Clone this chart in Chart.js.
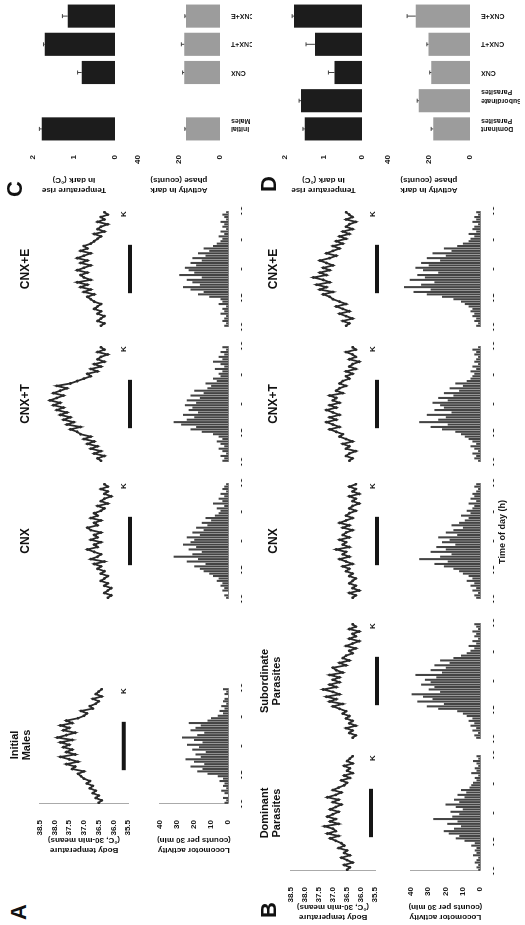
<!DOCTYPE html>
<html>
<head>
<meta charset="utf-8">
<script src="https://cdn.jsdelivr.net/npm/chart.js@4.4.1/dist/chart.umd.min.js"></script>
<style>
html,body{margin:0;padding:0;background:#fff;width:525px;height:925px;overflow:hidden;}
#fig{position:absolute;left:0;top:0;width:925px;height:525px;transform-origin:0 0;transform:translateY(925px) rotate(-90deg);font-family:"Liberation Sans",Arial,sans-serif;color:#111;background:#fff;}
#fig canvas{position:absolute;}
.t{position:absolute;font-weight:bold;text-align:center;white-space:nowrap;line-height:1.05;}
.L{position:absolute;font-weight:bold;font-size:22px;line-height:1;}
.m{position:absolute;font-size:8px;font-weight:bold;}
</style>
</head>
<body>
<div id="fig"></div>
<script>
// ---------- DATA ----------
const timeBins = [0.25,0.75,1.25,1.75,2.25,2.75,3.25,3.75,4.25,4.75,5.25,5.75,
                  6.25,6.75,7.25,7.75,8.25,8.75,9.25,9.75,10.25,10.75,11.25,11.75,
                  12.25,12.75,13.25,13.75,14.25,14.75,15.25,15.75,16.25,16.75,17.25,17.75,
                  18.25,18.75,19.25,19.75,20.25,20.75,21.25,21.75,22.25,22.75,23.25,23.75];
const hourTicks = [0,6,12,18,24];
const hourTickLabels = ['12','18','0','6','12'];
const darkPeriod = [7,17];
const darkBarLevel = 35.65;

const tempAxisTitle = ['Body temperature','(°C, 30-min means)'];
const actAxisTitle = ['Locomotor activity','(counts per 30 min)'];
const ampAxisTitle = ['Temperature rise','in dark (°C)'];
const darkActAxisTitle = ['Activity in dark','phase (counts)'];
const timeAxisTitle = 'Time of day (h)';

// Panel A temperature
const imTemp    = [36.5,36.4,36.6,36.5,36.7,36.6,36.8,36.7,36.9,36.8,37.0,37.1, 37.2,37.0,37.4,37.3,37.6,37.2,37.5,37.8,37.3,37.6,37.4,37.7, 37.5,37.8,37.4,37.9,37.6,37.3,37.7,37.5,37.8,37.4,37.6,37.2, 37.0,36.9,37.1,36.7,36.8,36.6,36.5,36.7,36.4,36.6,36.5,36.4];
const cnxTempA  = [36.3,36.2,36.4,36.3,36.2,36.4,36.3,36.5,36.4,36.3,36.5,36.4, 36.6,36.5,36.7,36.4,36.8,36.6,36.5,36.7,36.9,36.6,36.7,36.5, 36.8,36.6,36.7,36.5,36.8,36.9,36.6,36.7,36.5,36.8,36.6,36.7, 36.5,36.4,36.6,36.3,36.5,36.4,36.2,36.4,36.3,36.5,36.3,36.4];
const cnxtTempA = [36.5,36.6,36.4,36.7,36.5,36.8,36.6,36.9,36.7,37.0,36.8,37.1, 37.2,37.4,37.1,37.5,37.3,37.6,37.4,37.7,37.5,37.8,37.6,37.9, 37.7,38.0,37.8,37.6,37.9,37.7,37.5,37.8,37.4,37.2,37.0,36.8, 36.9,36.6,36.8,36.5,36.7,36.4,36.6,36.5,36.3,36.6,36.4,36.5];
const cnxeTempA = [36.5,36.4,36.6,36.5,36.4,36.6,36.5,36.7,36.6,36.5,36.7,36.8, 36.9,36.7,37.0,36.8,37.1,36.9,37.2,36.8,37.0,37.1,36.9,37.2, 37.0,36.8,37.1,36.9,37.2,37.0,36.8,37.1,36.9,37.0,36.8,36.7, 36.6,36.5,36.7,36.4,36.6,36.5,36.3,36.6,36.4,36.5,36.3,36.4];
// Panel B temperature
const domTemp   = [36.5,36.4,36.6,36.3,36.5,36.7,36.4,36.6,36.5,36.8,36.6,36.7, 36.9,37.1,36.8,37.2,36.9,37.0,37.3,36.8,37.1,36.9,37.2,37.0, 36.8,37.1,36.9,36.7,37.0,36.8,37.2,36.9,36.7,37.0,36.8,36.6, 36.5,36.7,36.4,36.6,36.3,36.5,36.4,36.6,36.3,36.5,36.4,36.3];
const subTemp   = [36.4,36.3,36.5,36.4,36.6,36.3,36.5,36.4,36.6,36.5,36.7,36.6, 36.8,37.0,36.7,37.1,36.9,37.2,36.8,37.0,37.3,36.9,37.1,36.8, 37.0,36.8,37.1,36.7,36.9,37.0,36.6,36.8,36.5,36.7,36.6,36.4, 36.5,36.3,36.6,36.4,36.2,36.5,36.3,36.4,36.2,36.5,36.3,36.4];
const cnxTempB  = [36.4,36.3,36.5,36.2,36.4,36.3,36.5,36.4,36.3,36.5,36.4,36.6, 36.5,36.7,36.4,36.6,36.8,36.5,36.7,36.6,36.9,36.5,36.7,36.6, 36.8,36.5,36.7,36.6,36.4,36.7,36.5,36.8,36.6,36.4,36.6,36.5, 36.3,36.5,36.4,36.2,36.4,36.3,36.5,36.2,36.4,36.3,36.5,36.3];
const cnxtTempB = [36.5,36.4,36.6,36.5,36.3,36.6,36.5,36.7,36.4,36.6,36.8,36.7, 36.9,37.1,36.8,37.0,37.2,36.9,37.1,36.8,37.0,37.2,36.9,37.1, 36.8,37.0,36.9,37.1,36.7,36.9,36.8,36.6,36.8,36.7,36.5,36.6, 36.4,36.6,36.3,36.5,36.4,36.2,36.5,36.3,36.4,36.6,36.3,36.4];
const cnxeTempB = [36.6,36.5,36.7,36.4,36.6,36.8,36.5,36.7,36.9,36.6,36.8,37.0, 37.1,37.3,37.0,37.4,37.2,37.5,37.1,37.3,37.6,37.2,37.4,37.1, 37.3,37.0,37.2,37.4,37.1,36.9,37.2,37.0,36.8,37.0,36.7,36.9, 36.6,36.8,36.5,36.7,36.4,36.6,36.5,36.3,36.6,36.4,36.5,36.6];

// Panel A activity
const imAct    = [2,1,3,0,2,4,1,3,2,5,3,6, 12,18,15,22,14,20,25,16,19,13,21,17, 24,15,20,27,18,14,22,19,16,23,12,10, 6,3,5,2,4,1,3,2,0,2,1,3];
const cnxActA  = [1,2,0,3,2,4,3,6,5,8,10,13, 15,18,12,22,16,29,19,14,21,17,24,20, 18,22,15,19,13,17,11,14,9,12,7,5, 4,6,2,8,3,5,2,4,1,3,2,1];
const cnxtActA = [3,2,4,1,3,5,2,4,6,3,5,8, 14,20,17,25,29,22,18,24,16,21,19,23, 17,22,15,20,13,18,11,9,12,6,8,4, 5,3,7,2,4,8,3,5,2,4,1,3];
const cnxeActA = [2,1,3,2,1,4,2,3,1,5,3,4, 10,16,13,20,24,15,19,22,14,26,18,21, 23,17,20,14,19,12,16,10,13,8,6,4, 3,5,2,4,1,3,2,4,1,2,3,1];
// Panel B activity
const domAct   = [1,2,1,3,2,1,4,2,3,2,5,3, 9,14,12,18,21,15,11,19,13,27,16,12, 17,10,14,20,12,15,9,13,8,11,6,5, 4,2,3,1,5,2,3,1,2,4,1,2];
const subAct   = [2,3,1,4,2,5,3,6,4,7,9,12, 22,28,19,33,25,30,36,21,27,24,31,26, 29,23,34,20,26,18,24,16,21,14,10,7, 5,3,6,2,4,1,3,2,4,1,2,3];
const cnxActB  = [2,3,1,4,2,5,3,7,4,6,9,11, 14,19,24,17,32,21,15,26,18,23,13,20, 16,22,12,18,14,9,15,11,8,6,10,5, 7,4,3,6,2,5,3,4,2,1,3,2];
const cnxtActB = [1,3,2,4,1,3,5,2,4,6,8,10, 13,20,26,17,32,22,18,28,15,24,19,21, 25,17,22,14,19,11,16,9,13,7,5,4, 3,5,2,4,1,3,2,1,3,2,4,1];
const cnxeActB = [2,1,3,2,4,3,5,4,6,8,10,14, 20,28,35,26,40,31,24,37,29,33,22,30, 34,27,31,21,28,18,25,15,19,12,9,6, 5,3,6,2,4,3,1,4,2,3,1,2];

// Panels C and D (bar summaries)
const cCategories = [['Initial','Males'], '', 'CNX', 'CNX+T', 'CNX+E'];
const cTempRise   = [1.78, null, 0.81, 1.71, 1.15];
const cTempErr    = [0.06, null, 0.10, 0.03, 0.13];
const cDarkAct    = [16.5, null, 17.4, 17.4, 16.5];
const cDarkActErr = [0.6, null, 0.8, 1.4, 0.6];
const dCategories = [['Dominant','Parasites'], ['Subordinate','Parasites'], 'CNX', 'CNX+T', 'CNX+E'];
const dTempRise   = [1.48, 1.58, 0.71, 1.22, 1.76];
const dTempErr    = [0.05, 0.05, 0.16, 0.23, 0.05];
const dDarkAct    = [17.9, 24.9, 18.8, 20.2, 26.4];
const dDarkActErr = [1.0, 0.8, 0.8, 0.8, 4.2];

// ---------- DRAWING ----------
Chart.defaults.font.family = '"Liberation Sans", Arial, sans-serif';
Chart.defaults.color = '#111';
const fig = document.getElementById('fig');
function addCanvas(l,t,w,h){
  const c=document.createElement('canvas');
  c.width=w; c.height=h;
  c.style.left=l+'px'; c.style.top=t+'px'; c.style.width=w+'px'; c.style.height=h+'px';
  fig.appendChild(c); return c;
}
function addText(cls, html, l, t, size, w){
  const d=document.createElement('div'); d.className=cls; d.innerHTML=html;
  d.style.left=l+'px'; d.style.top=t+'px';
  if(size) d.style.fontSize=size+'px';
  if(w) d.style.width=w+'px';
  fig.appendChild(d); return d;
}
const W = 116;
const rowA = {tT:33, tB:135, aT:153, aB:228};
const rowB = {tT:284, tB:382, aT:404, aB:480};
const baseOpts = {responsive:false, animation:false, events:[]};
const noPlug = {legend:{display:false}, tooltip:{enabled:false}};
const tickFont = {size:8, weight:'bold'};

function tempChart(p,row){
  const axW=p.yAxis?51:0, padL=p.yAxis?0:8;
  const c=addCanvas(p.x0-axW-padL, row.tT-6, padL+axW+W+8, row.tB-row.tT+12);
  new Chart(c,{type:'line',
    data:{datasets:[
      {data:timeBins.map((t,i)=>({x:t,y:p.temp[i]})), borderColor:'#2a2a2a', borderWidth:1.8, pointRadius:1.4, pointBackgroundColor:'#2a2a2a', pointBorderWidth:0, tension:0},
      {data:darkPeriod.map(t=>({x:t,y:darkBarLevel})), borderColor:'#151515', borderWidth:4, pointRadius:0, borderCapStyle:'butt'}
    ]},
    options:{...baseOpts, layout:{padding:{left:padL,right:8,top:6,bottom:6}}, plugins:noPlug,
      scales:{
        x:{type:'linear', min:0, max:24, display:false},
        y:{min:35.5, max:38.5, display:!!p.yAxis, afterFit:s=>{s.width=axW;},
           grid:{display:false}, border:{display:true,color:'#aaa',dash:[1,2]},
           ticks:{stepSize:0.5, padding:8, font:tickFont, callback:v=>v.toFixed(1)},
           title:{display:true, text:tempAxisTitle, font:{size:8, weight:'bold'}, padding:0}}
      }}
  });
}
function actChart(p,row){
  const axW=p.yAxis?51:0, padL=p.yAxis?0:8;
  const c=addCanvas(p.x0-axW-padL, row.aT-6, padL+axW+W+8, row.aB-row.aT+6+14);
  new Chart(c,{type:'bar',
    data:{datasets:[{data:timeBins.map((t,i)=>({x:t,y:p.act[i]})), backgroundColor:'#444', barPercentage:0.85, categoryPercentage:1, borderWidth:0}]},
    options:{...baseOpts, layout:{padding:{left:padL,right:8,top:6,bottom:0}}, plugins:noPlug,
      scales:{
        x:{type:'linear', min:0, max:24, offset:false, afterFit:s=>{s.height=14;},
           grid:{display:false, offset:false}, border:{display:true,color:'#888',dash:[1,2]},
           ticks:{stepSize:6, autoSkip:false, maxRotation:0, padding:3, font:{size:9, weight:'bold'},
                  callback:v=>{const i=hourTicks.indexOf(v); return i<0?'':hourTickLabels[i];}}},
        y:{min:0, max:40, display:!!p.yAxis, afterFit:s=>{s.width=axW;},
           grid:{display:false}, border:{display:true,color:'#aaa',dash:[1,2]},
           ticks:{stepSize:10, padding:8, font:tickFont},
           title:{display:true, text:actAxisTitle, font:{size:8, weight:'bold'}, padding:0}}
      }}
  });
}
const errPlugin = {id:'errbars', afterDatasetsDraw(chart, args, opts){
  const errs=opts.errors; if(!errs) return;
  const meta=chart.getDatasetMeta(0), ys=chart.scales.y, ctx=chart.ctx;
  ctx.save(); ctx.strokeStyle=opts.color||'#444'; ctx.lineWidth=1;
  meta.data.forEach((bar,i)=>{
    const v=chart.data.datasets[0].data[i], e=errs[i];
    if(v==null||!e) return;
    const yT=ys.getPixelForValue(v+e);
    ctx.beginPath(); ctx.moveTo(bar.x, bar.y); ctx.lineTo(bar.x, yT);
    ctx.moveTo(bar.x-2, yT); ctx.lineTo(bar.x+2, yT); ctx.stroke();
  });
  ctx.restore();
}};
function barChart(l,t,plotH,xh,labels,vals,errs,color,max,step,title,showX){
  const axW=52, W2=141;
  const c=addCanvas(l,t,axW+W2+2,6+plotH+xh);
  new Chart(c,{type:'bar',
    data:{labels:labels, datasets:[{data:vals, backgroundColor:color, barPercentage:0.82, categoryPercentage:1, borderWidth:0}]},
    options:{...baseOpts, layout:{padding:{left:0,right:2,top:6,bottom:showX?0:xh}},
      plugins:{...noPlug, errbars:{errors:errs, color:'#444'}},
      scales:{
        x:{display:showX, afterFit:s=>{s.height=xh;}, grid:{display:false}, border:{display:false},
           ticks:{minRotation:90, maxRotation:90, autoSkip:false, font:{size:7, weight:'bold'}, padding:3}},
        y:{min:0, max:max, afterFit:s=>{s.width=axW;}, grid:{display:false}, border:{display:false},
           ticks:{stepSize:step, font:tickFont, padding:4},
           title:{display:true, text:title, font:{size:8, weight:'bold'}, padding:0}}
      }},
    plugins:[errPlugin]
  });
}

const panelsA = [
  {x0:121, temp:imTemp,    act:imAct,    yAxis:true},
  {x0:326, temp:cnxTempA,  act:cnxActA},
  {x0:463, temp:cnxtTempA, act:cnxtActA},
  {x0:598, temp:cnxeTempA, act:cnxeActA}
];
const panelsB = [
  {x0:54,  temp:domTemp,   act:domAct,   yAxis:true},
  {x0:186, temp:subTemp,   act:subAct},
  {x0:326, temp:cnxTempB,  act:cnxActB},
  {x0:463, temp:cnxtTempB, act:cnxtActB},
  {x0:598, temp:cnxeTempB, act:cnxeActB}
];
panelsA.forEach(p=>{tempChart(p,rowA); actChart(p,rowA); addText('m','K',p.x0+W-6,119);});
panelsB.forEach(p=>{tempChart(p,rowB); actChart(p,rowB); addText('m','K',p.x0+W-6,368);});

barChart(730, 24, 90, 5, cCategories, cTempRise, cTempErr, '#1c1c1c', 2, 1, ampAxisTitle, false);
barChart(730, 129, 85, 32, cCategories, cDarkAct, cDarkActErr, '#9c9c9c', 40, 20, darkActAxisTitle, true);
barChart(730, 276, 85, 5, dCategories, dTempRise, dTempErr, '#1c1c1c', 2, 1, ampAxisTitle, false);
barChart(730, 379, 85, 50, dCategories, dDarkAct, dDarkActErr, '#9c9c9c', 40, 20, darkActAxisTitle, true);

// Titles and panel letters
addText('L','A',5,8); addText('L','B',7,258); addText('L','C',728,4); addText('L','D',733,258);
addText('t','Initial<br>Males',180-60,9,11,120);
addText('t','CNX',384-60,19,12,120);
addText('t','CNX+T',521-60,19,12,120);
addText('t','CNX+E',656-60,19,12,120);
addText('t','Dominant<br>Parasites',112-60,259,11,120);
addText('t','Subordinate<br>Parasites',244-60,259,11,120);
addText('t','CNX',384-60,267,12,120);
addText('t','CNX+T',521-60,267,12,120);
addText('t','CNX+E',656-60,267,12,120);
addText('t',timeAxisTitle,393-60,498,9,120);
</script>
</body>
</html>
